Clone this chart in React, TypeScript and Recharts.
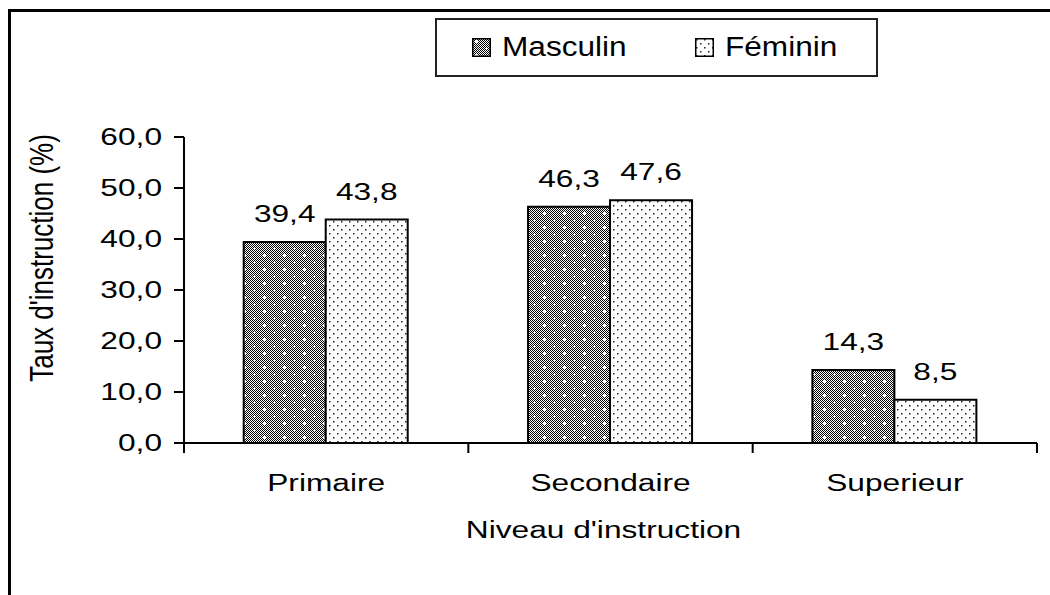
import { BarChart, Bar, XAxis, YAxis, LabelList, Legend, Label } from 'recharts'

const categories = ['Primaire', 'Secondaire', 'Superieur']
const masculin = [39.4, 46.3, 14.3]
const feminin = [43.8, 47.6, 8.5]
const yTicks = [0, 10, 20, 30, 40, 50, 60]
const seriesNames = ['Masculin', 'Féminin']

const data = categories.map((niveau, i) => ({
  niveau,
  masculin: masculin[i],
  feminin: feminin[i],
}))

const FONT = '"Liberation Sans", Arial, Helvetica, sans-serif'
// the source picture is stretched sideways, text included
const STRETCH = 1.32

const fmt = (v: number) => v.toFixed(1).replace('.', ',')

function WideText({ x, y, anchor, size = 24, scale = STRETCH, rotate = false, children }: any) {
  const t = `translate(${x},${y}) scale(${scale},1)${rotate ? ' rotate(-90)' : ''}`
  return (
    <text transform={t} textAnchor={anchor} fontFamily={FONT} fontSize={size} fill="#000">
      {children}
    </text>
  )
}

const YTick = ({ x, y, payload }: any) => (
  <WideText x={x} y={y + 8} anchor="end">{fmt(payload.value)}</WideText>
)

// category label plus the little tick marks on the band edges
const XTick = ({ x, y, payload, index, visibleTicksCount }: any) => {
  const half = payload.offset ?? 0
  const axisY = y - 10
  return (
    <g>
      <line x1={x - half} x2={x - half} y1={axisY} y2={axisY + 10} stroke="#000" strokeWidth={2} />
      {index === visibleTicksCount - 1 && (
        <line x1={x + half} x2={x + half} y1={axisY} y2={axisY + 10} stroke="#000" strokeWidth={2} />
      )}
      <WideText x={x} y={axisY + 48} anchor="middle">{payload.value}</WideText>
    </g>
  )
}

const ValueLabel = ({ x, y, width, value }: any) => (
  <WideText x={Number(x) + Number(width) / 2} y={Number(y) - 20} anchor="middle">{fmt(value)}</WideText>
)

const patterns = ['url(#patM)', 'url(#patF)']

const LegendBox = () => (
  <div
    style={{
      boxSizing: 'border-box',
      width: 443,
      height: 59,
      border: '2px solid #222',
      background: '#fff',
      display: 'flex',
      alignItems: 'center',
      paddingLeft: 35,
      fontFamily: FONT,
      fontSize: 27,
      color: '#000',
    }}
  >
    {seriesNames.map((name, i) => (
      <div key={name} style={{ display: 'flex', alignItems: 'center', width: i === 0 ? 223 : 'auto' }}>
        <svg width={19} height={19} style={{ display: 'block' }}>
          <rect x={0.75} y={0.75} width={17.5} height={17.5} fill={patterns[i]} stroke="#000" strokeWidth={1.5} />
        </svg>
        <span style={{ display: 'inline-block', marginLeft: 11, transform: 'scaleX(1.17)', transformOrigin: 'left center' }}>
          {name}
        </span>
      </div>
    ))}
  </div>
)

export default function App() {
  return (
    <div style={{ position: 'absolute', left: 0, top: 0, width: 1050, height: 595, overflow: 'hidden', background: '#fff' }}>
      <svg width={0} height={0} style={{ position: 'absolute' }}>
        <defs>
          <pattern id="chk" width={2} height={2} patternUnits="userSpaceOnUse">
            <rect width={2} height={2} fill="#fff" />
            <rect width={1} height={1} fill="#000" />
            <rect x={1} y={1} width={1} height={1} fill="#000" />
          </pattern>
          <pattern id="patM" width={20} height={14} patternUnits="userSpaceOnUse">
            <rect width={20} height={14} fill="url(#chk)" />
            <rect x={3} y={3} width={3} height={1} fill="#fff" />
            <rect x={4} y={2} width={1} height={3} fill="#fff" />
            <rect x={13} y={10} width={3} height={1} fill="#fff" />
            <rect x={14} y={9} width={1} height={3} fill="#fff" />
          </pattern>
          <pattern id="patF" width={8} height={8} patternUnits="userSpaceOnUse">
            <rect width={8} height={8} fill="#fff" />
            <rect x={1} y={1} width={1.5} height={1.5} fill="#222" />
            <rect x={5} y={5} width={1.5} height={1.5} fill="#222" />
          </pattern>
        </defs>
      </svg>

      <div
        style={{
          position: 'absolute',
          left: 8,
          top: 9,
          width: 1100,
          height: 700,
          borderTop: '3px solid #000',
          borderLeft: '3px solid #000',
        }}
      />

      <div style={{ position: 'absolute', left: 0, top: 0 }}>
        <BarChart
          width={1050}
          height={595}
          data={data}
          margin={{ top: 137, right: 13, bottom: 0, left: 0 }}
          barCategoryGap="21%"
          barGap={0}
        >
          <XAxis
            dataKey="niveau"
            height={152}
            axisLine={{ stroke: '#000', strokeWidth: 2 }}
            tickLine={false}
            tickSize={10}
            tickMargin={0}
            tick={<XTick />}
            interval={0}
          >
            <Label
              content={({ viewBox }: any) => (
                <WideText x={viewBox.x + viewBox.width / 2 - 7} y={viewBox.y + 95} anchor="middle">
                  Niveau d'instruction
                </WideText>
              )}
            />
          </XAxis>
          <YAxis
            width={184}
            domain={[0, 60]}
            ticks={yTicks}
            axisLine={{ stroke: '#000', strokeWidth: 2 }}
            tickLine={{ stroke: '#000', strokeWidth: 2 }}
            tickSize={10}
            tickMargin={12}
            tick={<YTick />}
          >
            <Label
              content={({ viewBox }: any) => (
                <WideText
                  x={53}
                  y={viewBox.y + viewBox.height / 2 - 32}
                  anchor="middle"
                  size={26}
                  scale={1.25}
                  rotate
                >
                  Taux d'instruction (%)
                </WideText>
              )}
            />
          </YAxis>
          <Legend
            verticalAlign="middle"
            align="center"
            content={<LegendBox />}
            wrapperStyle={{ position: 'absolute', left: 435, top: 18, width: 443, height: 59 }}
          />
          <Bar dataKey="masculin" name="Masculin" fill="url(#patM)" stroke="#000" strokeWidth={2} isAnimationActive={false}>
            <LabelList dataKey="masculin" content={<ValueLabel />} />
          </Bar>
          <Bar dataKey="feminin" name="Féminin" fill="url(#patF)" stroke="#000" strokeWidth={2} isAnimationActive={false}>
            <LabelList dataKey="feminin" content={<ValueLabel />} />
          </Bar>
        </BarChart>
      </div>
    </div>
  )
}
